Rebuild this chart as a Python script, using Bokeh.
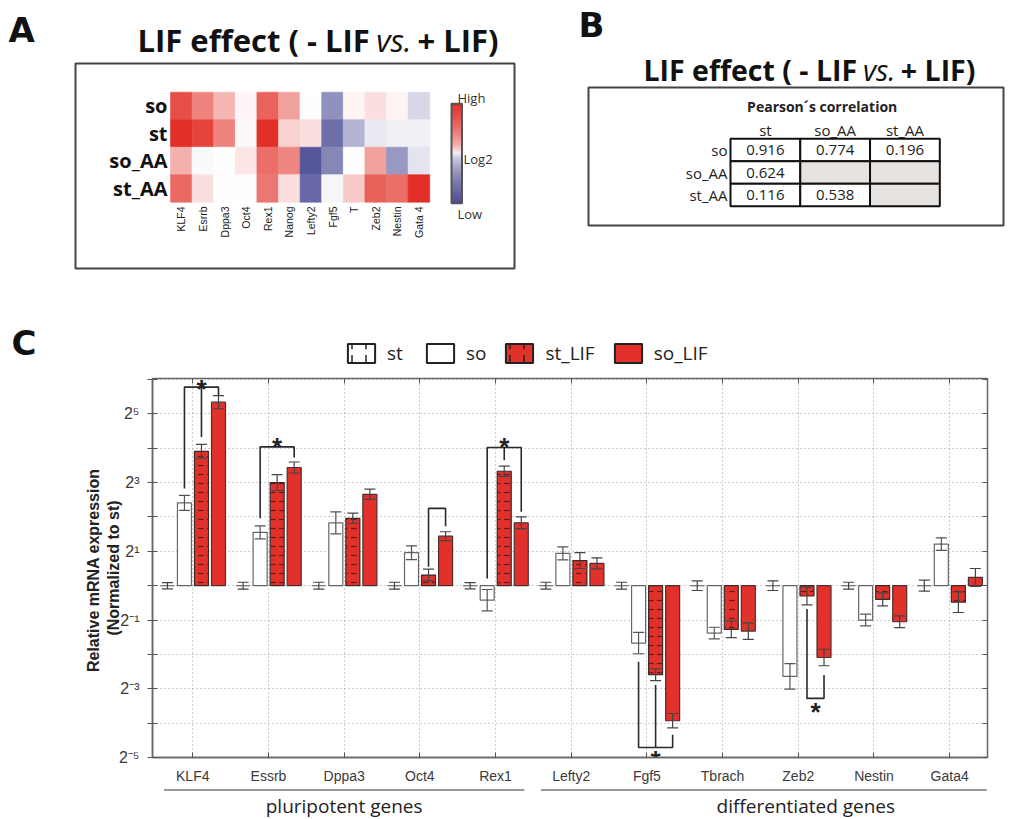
import math
import numpy as np
from bokeh.plotting import figure
from bokeh.models import (ColumnDataSource, LinearColorMapper, Range1d, FixedTicker,
                          Whisker, TeeHead, Legend, LegendItem, LinearAxis)
from bokeh.layouts import column, row
from bokeh.embed import file_html
from bokeh.resources import INLINE
from bokeh.core.properties import value
from bokeh.transform import transform

# ---------------- Panel A : heat map (log2 LIF effect, scaled -1..1) ----------------
heat_genes = ["KLF4", "Esrrb", "Dppa3", "Oct4", "Rex1", "Nanog", "Lefty2", "Fgf5", "T", "Zeb2", "Nestin", "Gata 4"]
heat_rows = ["so", "st", "so_AA", "st_AA"]
heat_so = [0.85, 0.60, 0.35, 0.04, 0.75, 0.45, 0.00, -0.62, 0.05, 0.15, 0.05, -0.22]
heat_st = [1.00, 0.90, 0.60, 0.03, 1.00, 0.22, 0.15, -0.82, -0.42, -0.12, -0.08, -0.08]
heat_so_AA = [0.38, -0.03, 0.00, 0.12, 0.70, 0.58, -0.95, -0.68, 0.00, 0.45, -0.58, -0.15]
heat_st_AA = [0.72, 0.15, 0.00, 0.00, 0.66, 0.15, -0.85, -0.05, 0.25, 0.76, 0.70, 1.00]

# ---------------- Panel B : Pearson correlation ----------------
corr_cols = ["st", "so_AA", "st_AA"]
corr_rows = ["so", "so_AA", "st_AA"]
corr_so = [0.916, 0.774, 0.196]
corr_so_AA = [0.624, None, None]
corr_st_AA = [0.116, 0.538, None]

# ---------------- Panel C : relative mRNA expression (log2, normalized to st) ----------------
genes = ["KLF4", "Essrb", "Dppa3", "Oct4", "Rex1", "Lefty2", "Fgf5", "Tbrach", "Zeb2", "Nestin", "Gata4"]
series = ["st", "so", "st_LIF", "so_LIF"]
st_log2 = [0.0, 0.0, 0.0, 0.0, 0.0, 0.0, 0.0, 0.0, 0.0, 0.0, 0.0]
st_err = [0.09, 0.10, 0.10, 0.10, 0.09, 0.10, 0.10, 0.14, 0.14, 0.10, 0.16]
so_log2 = [2.41, 1.55, 1.83, 0.96, -0.42, 0.94, -1.67, -1.38, -2.64, -1.00, 1.21]
so_err = [0.22, 0.19, 0.32, 0.20, 0.31, 0.19, 0.31, 0.17, 0.37, 0.17, 0.18]
st_LIF_log2 = [3.91, 3.00, 1.96, 0.31, 3.33, 0.73, -2.59, -1.27, -0.30, -0.40, -0.48]
st_LIF_err = [0.20, 0.23, 0.15, 0.17, 0.15, 0.23, 0.17, 0.24, 0.26, 0.19, 0.30]
so_LIF_log2 = [5.34, 3.44, 2.66, 1.44, 1.83, 0.65, -3.93, -1.32, -2.09, -1.05, 0.24]
so_LIF_err = [0.19, 0.16, 0.15, 0.13, 0.17, 0.16, 0.21, 0.24, 0.24, 0.17, 0.26]
y_tick_labels = {5: "2\u2075", 3: "2\u00b3", 1: "2\u00b9", -1: "2\u207b\u00b9", -3: "2\u207b\u00b3", -5: "2\u207b\u2075"}

# significance brackets
sig_gene = ["KLF4", "Essrb", "Oct4", "Rex1", "Fgf5", "Zeb2"]
sig_left = ["so", "so", "st_LIF", "so", "so", "st_LIF"]
sig_right = ["so_LIF", "so_LIF", "so_LIF", "so_LIF", "so_LIF", "so_LIF"]
sig_mid = ["st_LIF", None, None, "st_LIF", "st_LIF", None]
sig_level = [5.78, 4.04, 2.25, 4.02, -4.71, -3.28]
sig_left_end = [2.83, 1.96, 0.55, 0.21, -2.21, -0.68]
sig_right_end = [5.54, 3.73, 1.73, 2.15, -4.34, -2.60]
sig_mid_end = [4.33, None, None, 3.65, -2.89, None]
sig_star_y = [5.93, 4.23, None, 4.23, -4.86, -3.47]

groups = ["pluripotent genes", "differentiated genes"]

RED = "#E2312B"


def blank_fig(w, h, xr, yr):
    p = figure(width=w, height=h, x_range=xr, y_range=yr, output_backend="svg",
               toolbar_location=None, min_border=0, x_axis_location=None, y_axis_location=None)
    p.grid.visible = False
    p.outline_line_color = None
    return p


def base(py, size):
    # anchor for an "alphabetic" baseline placed at page row py
    return py - 0.375 * size


def lerp(c1, c2, t):
    return "#%02x%02x%02x" % tuple(int(round(a + (b - a) * t)) for a, b in zip(c1, c2))


palette = []
for k in range(256):
    t = k / 255 * 2 - 1
    if t < 0:
        palette.append(lerp((255, 255, 255), (78, 78, 150), -t))
    else:
        palette.append(lerp((255, 255, 255), (226, 48, 40), t))
mapper = LinearColorMapper(palette=palette, low=-1, high=1)

# ================= Panel A =================
AW, AH = 550, 290
CW, CH = 21.6, 27.5
X0, Y0 = 170.0, 91.7


def ax_(px):
    return (px - X0) / CW


def ay_(py):
    return (py - Y0) / CH


pA = blank_fig(AW, AH, Range1d(ax_(0), ax_(AW)), Range1d(ay_(AH), ay_(0)))
heat_data = {"so": heat_so, "st": heat_st, "so_AA": heat_so_AA, "st_AA": heat_st_AA}
hx, hy, hv = [], [], []
for r, name in enumerate(heat_rows):
    for i, g in enumerate(heat_genes):
        hx.append(i + 0.5)
        hy.append(r + 0.5)
        hv.append(heat_data[name][i])
pA.rect(x="x", y="y", width=1, height=1, source=ColumnDataSource(dict(x=hx, y=hy, v=hv)),
        fill_color=transform("v", mapper), line_color=transform("v", mapper), line_width=0.6)
pA.text(x=[ax_(167)] * 4, y=[r + 0.5 for r in range(4)], text=heat_rows, text_align="right",
        text_baseline="middle", text_font=value("Open Sans"), text_font_style="bold",
        text_font_size="20px", text_color="#111111")
pA.text(x=[i + 0.5 for i in range(len(heat_genes))], y=[ay_(206)] * len(heat_genes), text=heat_genes,
        angle=math.pi / 2, text_align="right", text_baseline="middle",
        text_font=value("Liberation Sans"), text_font_size="10.5px", text_color="#222222")
# colour bar (saturating gradient, as in the reference key)
N = 40
edges = np.linspace(103.3, 202.7, N + 1)
cb_v = np.linspace(1, -1, N)
cb_col = [palette[int(round((np.sign(v) * abs(v) ** 0.55 + 1) / 2 * 255))] for v in cb_v]
pA.quad(left=ax_(451), right=ax_(461.5), top=[ay_(e) for e in edges[:-1]], bottom=[ay_(e) for e in edges[1:]],
        fill_color=cb_col, line_color=cb_col, line_width=0.8)
pA.quad(left=ax_(451), right=ax_(461.5), top=ay_(103.3), bottom=ay_(202.7), fill_color=None,
        line_color="#555555", line_width=2)
pA.text(x=[ax_(457), ax_(463), ax_(457)], y=[ay_(base(102, 13)), ay_(158.5), ay_(204)],
        text=["High", "Log2", "Low"], text_align="left", text_baseline=["alphabetic", "middle", "top"],
        text_font=value("Open Sans"), text_font_size="13px", text_color="#333333")
# frame box
pA.quad(left=ax_(75), right=ax_(514), top=ay_(63), bottom=ay_(268), fill_color=None,
        line_color="#444444", line_width=2)
# letter + title
pA.text(x=[ax_(8)], y=[ay_(base(42, 34))], text=["A"], text_font=value("DejaVu Sans"), text_font_style="bold",
        text_font_size="34px", text_color="#111111", text_baseline="alphabetic")
TA = 31
ya = ay_(base(51, TA))
pA.text(x=[ax_(137)], y=[ya], text=["LIF effect ( - LIF"], text_font=value("Open Sans"),
        text_font_style="bold", text_font_size=f"{TA}px", text_color="#111111", text_baseline="alphabetic")
pA.text(x=[ax_(137 + 7.7 * TA)], y=[ya], text=["vs."], text_font=value("Open Sans"),
        text_font_style="italic", text_font_size=f"{TA}px", text_color="#111111", text_baseline="alphabetic")
pA.text(x=[ax_(137 + 9.03 * TA)], y=[ya], text=["+ LIF)"], text_font=value("Open Sans"),
        text_font_style="bold", text_font_size=f"{TA}px", text_color="#111111", text_baseline="alphabetic")

# ================= Panel B =================
BW, BH, BOFF = 467, 290, 550
BX0, BCW = 730.0, 69.77
BY0, BCH = 138.3, 22.47


def bx(px):
    return (px - BX0) / BCW


def by(py):
    return (py - BY0) / BCH


pB = blank_fig(BW, BH, Range1d(bx(BOFF), bx(BOFF + BW)), Range1d(by(BH), by(0)))
corr_data = {"so": corr_so, "so_AA": corr_so_AA, "st_AA": corr_st_AA}
cx, cy, cfill, ctext, tx, ty = [], [], [], [], [], []
for r, name in enumerate(corr_rows):
    for c, col in enumerate(corr_cols):
        v = corr_data[name][c]
        cx.append(c + 0.5)
        cy.append(r + 0.5)
        cfill.append("#ffffff" if v is not None else "#E7E3E1")
        if v is not None:
            tx.append(c + 0.5)
            ty.append(r + 0.5)
            ctext.append(f"{v:.3f}")
pB.rect(x=cx, y=cy, width=1, height=1, fill_color=cfill, line_color="#111111", line_width=2)
pB.text(x=tx, y=ty, text=ctext, text_align="center", text_baseline="middle", text_font=value("Open Sans"),
        text_font_size="15px", text_color="#222222")
pB.text(x=[c + 0.5 for c in range(3)], y=[by(129)] * 3, text=corr_cols, text_align="center",
        text_baseline="middle", text_font=value("Open Sans"), text_font_size="15px", text_color="#222222")
pB.text(x=[bx(727)] * 3, y=[r + 0.5 for r in range(3)], text=corr_rows, text_align="right",
        text_baseline="middle", text_font=value("Open Sans"), text_font_size="15px", text_color="#222222")
pB.text(x=[bx(821.7)], y=[by(105.5)], text=["Pearson\u00b4s correlation"], text_align="center",
        text_baseline="middle", text_font=value("Open Sans"), text_font_style="bold",
        text_font_size="14px", text_color="#222222")
pB.quad(left=bx(588), right=bx(1003), top=by(87), bottom=by(225), fill_color=None,
        line_color="#444444", line_width=2)
pB.text(x=[bx(578)], y=[by(base(37, 34))], text=["B"], text_font=value("DejaVu Sans"), text_font_style="bold",
        text_font_size="34px", text_color="#111111", text_baseline="alphabetic")
TB = 28.5
yb = by(base(80, TB))
pB.text(x=[bx(643)], y=[yb], text=["LIF effect ( - LIF"], text_font=value("Open Sans"),
        text_font_style="bold", text_font_size=f"{TB}px", text_color="#111111", text_baseline="alphabetic")
pB.text(x=[bx(643 + 7.7 * TB)], y=[yb], text=["vs."], text_font=value("Open Sans"),
        text_font_style="italic", text_font_size=f"{TB}px", text_color="#111111", text_baseline="alphabetic")
pB.text(x=[bx(643 + 9.03 * TB)], y=[yb], text=["+ LIF)"], text_font=value("Open Sans"),
        text_font_style="bold", text_font_size=f"{TB}px", text_color="#111111", text_baseline="alphabetic")

# ================= Panel C header strip (letter + legend) =================
p0 = blank_fig(1017, 80, Range1d(0, 1017), Range1d(80, 0))
p0.text(x=[11], y=[base(65, 34)], text=["C"], text_font=value("DejaVu Sans"), text_font_style="bold",
        text_font_size="34px", text_color="#111111", text_baseline="alphabetic")
# legend-only renderers (hidden; they only supply the legend swatches)
leg_kw = dict(x=[500], top=[40], bottom=[40], width=0, line_color="#222222", line_width=2)
leg_st = p0.vbar(fill_color="white", hatch_pattern="vertical_dash", hatch_color="#222222",
                 hatch_scale=14, hatch_weight=1.5, **leg_kw)
leg_so = p0.vbar(fill_color="white", **leg_kw)
leg_stl = p0.vbar(fill_color=RED, hatch_pattern="vertical_dash", hatch_color="#222222",
                  hatch_scale=14, hatch_weight=1.5, **leg_kw)
leg_sol = p0.vbar(fill_color=RED, **leg_kw)
for r in (leg_st, leg_so, leg_stl, leg_sol):
    r.visible = False
legend = Legend(items=[LegendItem(label=s, renderers=[r]) for s, r in
                       zip(series, [leg_st, leg_so, leg_stl, leg_sol])],
                location=(344, 4), orientation="horizontal", glyph_width=34, glyph_height=24,
                label_text_font="Open Sans", label_text_font_size="19px", label_text_color="#222222",
                label_standoff=9, spacing=16, padding=0, margin=0, label_height=24,
                border_line_color=None, background_fill_alpha=0,
                inactive_fill_alpha=0)
p0.add_layout(legend)

# ================= Panel C main chart =================
XR = Range1d(0.468, 11.5)
pC = figure(width=1017, height=416, x_range=XR, y_range=Range1d(-5, 6.03), output_backend="svg",
            toolbar_location=None, min_border_left=152, min_border_right=30, min_border_top=8,
            min_border_bottom=28)
pC.outline_line_color = "#666666"
pC.outline_line_width = 1.5
gx = list(range(1, len(genes) + 1))
yt = list(range(-5, 7))

pC.xaxis.ticker = FixedTicker(ticks=gx)
pC.xaxis.major_label_overrides = {g: n for g, n in zip(gx, genes)}
pC.yaxis.ticker = FixedTicker(ticks=yt)
pC.yaxis.major_label_overrides = {t: y_tick_labels.get(t, "") for t in yt}
for a in pC.xaxis + pC.yaxis:
    a.axis_line_color = "#666666"
    a.axis_line_width = 1.5
    a.major_tick_line_color = "#555555"
    a.minor_tick_line_color = None
    a.major_label_text_font = "Liberation Sans"
    a.major_label_text_color = "#3a3a3a"
pC.xaxis.major_tick_in = 5
pC.xaxis.major_tick_out = 0
pC.xaxis.major_label_text_font_size = "14px"
pC.xaxis.major_label_standoff = 10
pC.yaxis.major_tick_in = 5
pC.yaxis.major_tick_out = 5
pC.yaxis.major_label_text_font_size = "16px"
pC.yaxis.major_label_standoff = 8
pC.yaxis.axis_label = "Relative  mRNA expression\n(Normalized to st)"
pC.yaxis.axis_label_text_font = "Liberation Sans"
pC.yaxis.axis_label_text_font_style = "bold"
pC.yaxis.axis_label_text_font_size = "16px"
pC.yaxis.axis_label_text_color = "#222222"
pC.yaxis.axis_label_standoff = -6

for side, tk in (("right", yt), ("above", gx)):
    ex = LinearAxis(ticker=FixedTicker(ticks=tk), major_label_text_font_size="0px", major_label_standoff=0,
                    major_tick_in=5, major_tick_out=0, axis_line_color=None,
                    major_tick_line_color="#555555", minor_tick_line_color=None)
    ex.major_label_overrides = {t: "" for t in tk}
    pC.add_layout(ex, side)

pC.grid.grid_line_color = "#9a9a9a"
pC.grid.grid_line_dash = "1 3"
pC.grid.grid_line_width = 1

offset = {"st": -0.335, "so": -0.11, "st_LIF": 0.115, "so_LIF": 0.34}
BAR_W = 0.185
vals = {"st": (st_log2, st_err), "so": (so_log2, so_err), "st_LIF": (st_LIF_log2, st_LIF_err),
        "so_LIF": (so_LIF_log2, so_LIF_err)}
style = {
    "st": dict(fill_color=None, line_color="#777777", line_width=1),
    "so": dict(fill_color="white", line_color="#666666", line_width=1.2),
    "st_LIF": dict(fill_color=RED, line_color="#3a2a2a", line_width=1.2, hatch_pattern="horizontal_dash",
                   hatch_color="#5e1d18", hatch_scale=9, hatch_weight=1.2),
    "so_LIF": dict(fill_color=RED, line_color="#4a3030", line_width=1.2),
}
for s in series:
    v, e = vals[s]
    xs = [g + offset[s] for g in gx]
    src = ColumnDataSource(dict(x=xs, top=v, upper=[a + b for a, b in zip(v, e)],
                                lower=[a - b for a, b in zip(v, e)]))
    pC.vbar(x="x", top="top", bottom=0, width=BAR_W, source=src, **style[s])
    wc = "#444444" if s != "so" else "#555555"
    pC.add_layout(Whisker(base="x", upper="upper", lower="lower", source=src, level="overlay",
                          line_color=wc, line_width=1.2,
                          upper_head=TeeHead(size=11, line_color=wc, line_width=1.2),
                          lower_head=TeeHead(size=11, line_color=wc, line_width=1.2)))

bxs, bys, sx_, sy_ = [], [], [], []
for k, g in enumerate(sig_gene):
    gi = genes.index(g) + 1
    xl = gi + offset[sig_left[k]]
    xr = gi + offset[sig_right[k]]
    bxs.append([xl, xl, xr, xr])
    bys.append([sig_left_end[k], sig_level[k], sig_level[k], sig_right_end[k]])
    xm = None
    if sig_mid[k] is not None:
        xm = gi + offset[sig_mid[k]]
        bxs.append([xm, xm])
        bys.append([sig_level[k], sig_mid_end[k]])
    if sig_star_y[k] is not None:
        sx_.append(xm if xm is not None else (xl + xr) / 2)
        sy_.append(sig_star_y[k])
pC.multi_line(xs=bxs, ys=bys, line_color="#2a2a2a", line_width=1.6)
pC.text(x=sx_, y=sy_, text=["*"] * len(sx_), text_align="center", text_baseline="middle", y_offset=7,
        text_font=value("Liberation Sans"), text_font_style="bold", text_font_size="26px", text_color="#222222")

# ================= Panel C footer strip (gene groups) =================
p2 = figure(width=1017, height=33, x_range=XR, y_range=Range1d(33, 0), output_backend="svg",
            toolbar_location=None, min_border_left=152, min_border_right=30, min_border_top=0,
            min_border_bottom=0, x_axis_location=None, y_axis_location=None)
p2.grid.visible = False
p2.outline_line_color = None
p2.segment(x0=[0.62, 5.6], x1=[5.38, 11.49], y0=[3.5, 3.5], y1=[3.5, 3.5], line_color="#777777", line_width=1.5)
p2.text(x=[3.0, 9.1], y=[19, 19], text=groups, text_align="center", text_baseline="middle",
        text_font=value("Open Sans"), text_font_size="19px", text_color="#222222")

layout = column(row(pA, pB), row(p0), pC, row(p2))
open("out.html", "w").write(file_html(layout, INLINE))
